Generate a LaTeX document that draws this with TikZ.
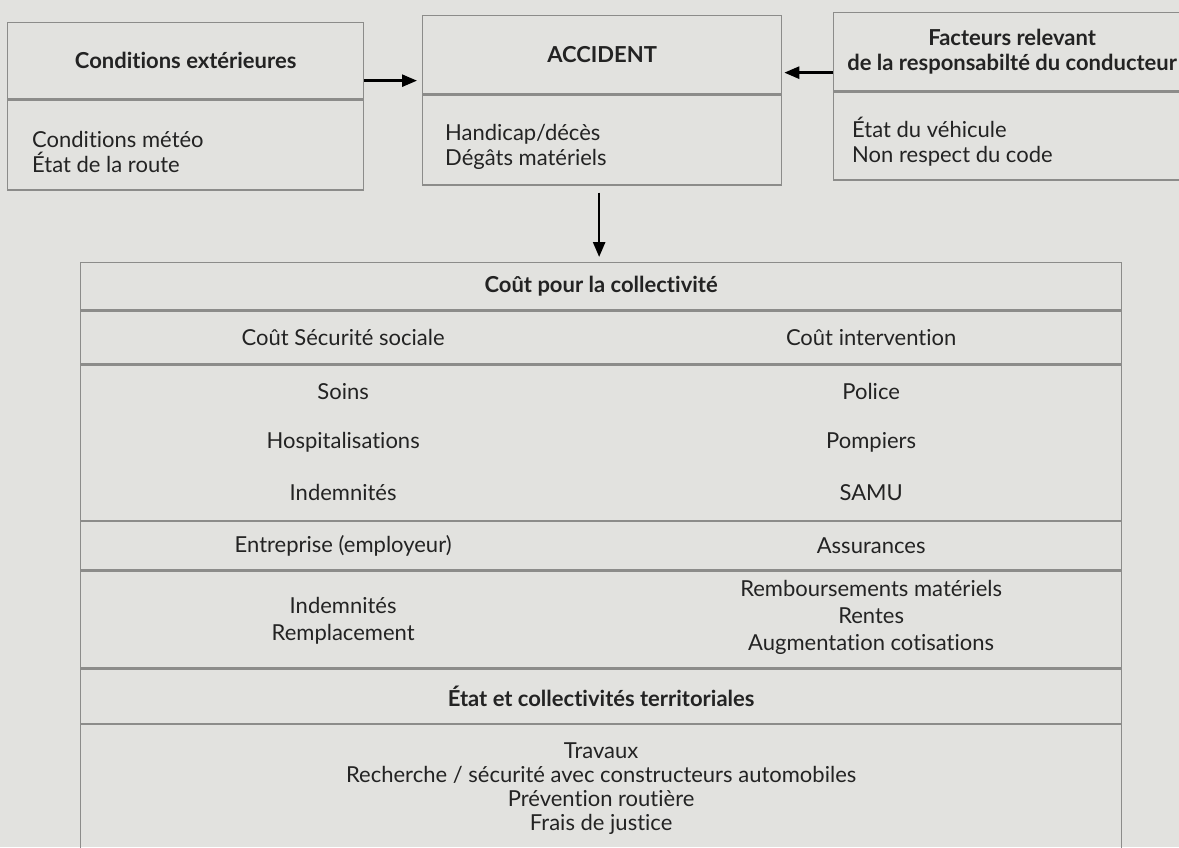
\documentclass[tikz,border=0pt]{standalone}
\usepackage{fontspec}
\setmainfont{Lato}[Ligatures=NoCommon]
\usetikzlibrary{arrows.meta,positioning}
\definecolor{paper}{RGB}{226,226,223}
\definecolor{rule}{RGB}{140,140,138}
\definecolor{ink}{RGB}{35,35,35}

\begin{document}
\begin{tikzpicture}[x=1pt, y=-1pt,
    cell/.style={draw=rule, line width=1.3pt, rectangle, inner sep=0pt, anchor=north west},
    txt/.style={text=ink, font=\fontsize{22}{25}\selectfont, align=center, inner sep=0pt},
    head/.style={txt, font=\fontsize{22}{25}\selectfont\bfseries},
    arr/.style={-{Triangle[length=15pt,width=12pt]}, line width=2.6pt, black}]
    \fill[paper] (0,0) rectangle (1179,847);
    \useasboundingbox (0,0) rectangle (1179,847);
    \clip (0,0) rectangle (1179,847);

    % top row
    \node[cell, head, minimum width=356pt, minimum height=76pt] (hext) at (7,22) {Conditions extérieures};
    \node[cell, minimum width=356pt, minimum height=90pt] (bext) at (hext.south west) {};
    \node[txt, align=left, anchor=west] (lext) at ([xshift=25pt, yshift=-7pt]bext.west) {Conditions météo\\État de la route};

    \node[cell, head, minimum width=359pt, minimum height=78pt] (hacc) at (422,15) {ACCIDENT};
    \node[cell, minimum width=359pt, minimum height=90pt] (bacc) at (hacc.south west) {};
    \node[txt, align=left, anchor=west] (lacc) at ([xshift=23pt, yshift=-7pt]bacc.west) {Handicap/décès\\Dégâts matériels};

    \node[cell, head, minimum width=357pt, minimum height=78pt] (hfac) at (833,12) {Facteurs relevant\\de la responsabilté du conducteur};
    \node[cell, minimum width=357pt, minimum height=88pt] (bfac) at (hfac.south west) {};
    \node[txt, align=left, anchor=west] (lfac) at ([xshift=19pt, yshift=-6pt]bfac.west) {État du véhicule\\Non respect du code};

    % big table
    \node[cell, head, minimum width=1041pt, minimum height=47pt] (cout) at (80,262) {Coût pour la collectivité};
    \node[cell, minimum width=1041pt, minimum height=53pt] (row1) at (cout.south west) {};
    \node[cell, minimum width=1041pt, minimum height=155pt] (row2) at (row1.south west) {};
    \node[cell, minimum width=1041pt, minimum height=48pt] (row3) at (row2.south west) {};
    \node[cell, minimum width=1041pt, minimum height=97pt] (row4) at (row3.south west) {};
    \node[cell, head, minimum width=1041pt, minimum height=54pt] (row5) at (row4.south west) {État et collectivités territoriales};
    \node[cell, txt, font=\fontsize{22}{24}\selectfont, minimum width=1041pt, minimum height=129pt] (row6) at (row5.south west)
        {Travaux\\Recherche / sécurité avec constructeurs automobiles\\Prévention routière\\Frais de justice};

    \node[txt] (secu) at ([xshift=-258pt]row1.center) {Coût Sécurité sociale};
    \node[txt] (interv) at ([xshift=270pt]row1.center) {Coût intervention};

    \node[txt] (soins) at ([xshift=-258pt, yshift=51pt]row2.center) {Soins};
    \node[txt] (hosp) at ([xshift=-258pt]row2.center) {Hospitalisations};
    \node[txt] (indem) at ([xshift=-258pt, yshift=-50pt]row2.center) {Indemnités};
    \node[txt] (police) at ([xshift=270pt, yshift=51pt]row2.center) {Police};
    \node[txt] (pomp) at ([xshift=270pt]row2.center) {Pompiers};
    \node[txt] (samu) at ([xshift=270pt, yshift=-50pt]row2.center) {SAMU};

    \node[txt] (entr) at ([xshift=-258pt]row3.center) {Entreprise (employeur)};
    \node[txt] (assur) at ([xshift=270pt]row3.center) {Assurances};

    \node[txt, font=\fontsize{22}{27}\selectfont] (remp) at ([xshift=-258pt, yshift=-1pt]row4.center) {Indemnités\\Remplacement};
    \node[txt, font=\fontsize{22}{27}\selectfont] (rembt) at ([xshift=270pt, yshift=2pt]row4.center) {Remboursements matériels\\Rentes\\Augmentation cotisations};

    % arrows
    \draw[arr, shorten >=5pt] ([yshift=-20pt]hext.east) -- ([yshift=-20pt]hext.east -| hacc.west);
    \draw[arr, shorten >=2pt] ([yshift=-21pt]hfac.west) -- ([yshift=-21pt]hfac.west -| hacc.east);
    \draw[arr, shorten <=7pt, shorten >=5pt] ([xshift=-3pt]bacc.south) -- ([xshift=-3pt]bacc.south |- cout.north);
\end{tikzpicture}
\end{document}
